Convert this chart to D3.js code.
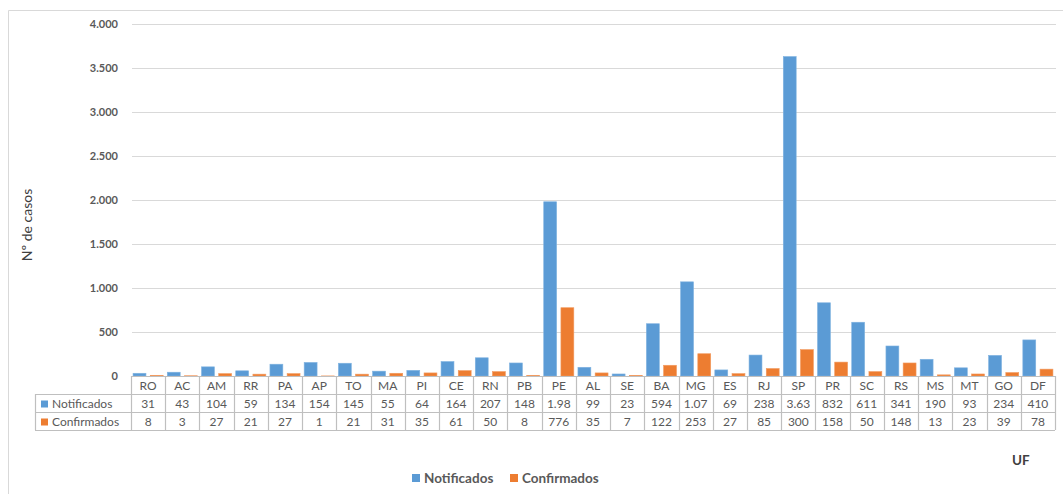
<!DOCTYPE html>
<html><head><meta charset="utf-8">
<script src="https://cdn.jsdelivr.net/npm/d3@7"></script>
<style>
html,body{margin:0;padding:0;background:#fff;}
svg{display:block;font-family:Lato,"Open Sans",sans-serif;}
</style></head>
<body>
<svg id="c" width="1063" height="494"></svg>
<script>
const categories = ["RO","AC","AM","RR","PA","AP","TO","MA","PI","CE","RN","PB","PE","AL","SE","BA","MG","ES","RJ","SP","PR","SC","RS","MS","MT","GO","DF"];
const notificados = [31,43,104,59,134,154,145,55,64,164,207,148,1980,99,23,594,1070,69,238,3630,832,611,341,190,93,234,410];
const confirmados = [8,3,27,21,27,1,21,31,35,61,50,8,776,35,7,122,253,27,85,300,158,50,148,13,23,39,78];
const notificadosLabels = ["31","43","104","59","134","154","145","55","64","164","207","148","1.98","99","23","594","1.07","69","238","3.63","832","611","341","190","93","234","410"];
const confirmadosLabels = confirmados.map(String);
const seriesNames = ["Notificados","Confirmados"];
const colors = ["#5B9BD5","#ED7D31"];
const yTicks = [0,500,1000,1500,2000,2500,3000,3500,4000];

const svg = d3.select("#c");
const L = 131, R = 1055, T = 24, B = 376;
const rowH = 18;

// frame
svg.append("path").attr("d","M8.5,494 V10.5 H1063").attr("fill","none").attr("stroke","#D9D9D9").attr("stroke-width",1);

const x0 = d3.scaleBand().domain(categories).range([L,R]).padding(0);
const x1 = d3.scaleBand().domain(seriesNames).range([0,x0.bandwidth()]).paddingInner(0.25).paddingOuter(0.12);
const y = d3.scaleLinear().domain([0,4000]).range([B,T]);

const loc = d3.formatLocale({decimal:",",thousands:".",grouping:[3],currency:["",""]});
const fmt = loc.format(",");

// gridlines
svg.append("g").selectAll("line").data(yTicks.filter(d=>d>0)).join("line")
  .attr("x1",L+1).attr("x2",R+1).attr("y1",d=>Math.round(y(d))+0.5).attr("y2",d=>Math.round(y(d))+0.5)
  .attr("stroke","#D9D9D9").attr("stroke-width",1);

// y labels
svg.append("g").selectAll("text").data(yTicks).join("text")
  .attr("x",118).attr("y",d=>y(d)).attr("dy","0.35em").attr("text-anchor","end")
  .attr("font-size",11).attr("font-weight",700).attr("fill","#595959").text(d=>fmt(d));

// y title
svg.append("text").attr("transform","translate(32,225) rotate(-90)").attr("text-anchor","middle")
  .attr("font-size",14).attr("fill","#404040").text("Nº de casos");

// bars
const data = categories.map((c,i)=>({c, vals:[notificados[i],confirmados[i]]}));
const grp = svg.append("g").selectAll("g").data(data).join("g").attr("transform",d=>`translate(${x0(d.c)},0)`);
grp.selectAll("rect").data(d=>d.vals.map((v,k)=>({k,v}))).join("rect")
  .attr("x",d=>x1(seriesNames[d.k])).attr("width",x1.bandwidth())
  .attr("y",d=>y(d.v)).attr("height",d=>B-y(d.v))
  .attr("fill",d=>colors[d.k]).attr("stroke",d=>d.k===0?"#7FB2E0":"#F29A5F").attr("stroke-width",0.6);

// table
const tbl = svg.append("g");
const tcol = "#BFBFBF";
const r0 = B, r1 = B+rowH, r2 = B+2*rowH, r3 = B+3*rowH;
const LL = 35;
tbl.append("line").attr("x1",L).attr("x2",R).attr("y1",r0+0.5).attr("y2",r0+0.5).attr("stroke",tcol);
[r1,r2,r3].forEach(yy=>tbl.append("line").attr("x1",LL).attr("x2",R).attr("y1",yy+0.5).attr("y2",yy+0.5).attr("stroke",tcol).attr("stroke-width",1.2));
const vx = categories.map(c=>x0(c)).concat([R]);
tbl.selectAll(".v").data(vx).join("line").attr("class","v")
  .attr("x1",d=>Math.round(d)+0.5).attr("x2",d=>Math.round(d)+0.5).attr("y1",r0).attr("y2",r3)
  .attr("stroke",tcol).attr("stroke-width",1.2);
tbl.append("line").attr("x1",LL+0.5).attr("x2",LL+0.5).attr("y1",r1).attr("y2",r3).attr("stroke",tcol).attr("stroke-width",1.2);

tbl.selectAll(".h").data(categories).join("text").attr("class","h")
  .attr("x",c=>x0(c)+x0.bandwidth()/2).attr("y",(r0+r1)/2+1).attr("dy","0.35em").attr("text-anchor","middle")
  .attr("font-size",12).attr("fill","#595959").text(c=>c);
[notificadosLabels, confirmadosLabels].forEach((labs,k)=>{
  const yy = B + rowH*(k+1) + rowH/2 + 1;
  tbl.append("g").selectAll("text").data(labs).join("text")
    .attr("x",(d,i)=>x0(categories[i])+x0.bandwidth()/2).attr("y",yy).attr("dy","0.35em").attr("text-anchor","middle")
    .attr("font-size",12).attr("fill","#595959").text(d=>d);
  tbl.append("rect").attr("x",41).attr("y",yy-3.5).attr("width",7).attr("height",7).attr("fill",colors[k]);
  tbl.append("text").attr("x",52).attr("y",yy).attr("dy","0.35em")
    .attr("font-size",12).attr("fill","#595959").text(seriesNames[k]);
});

svg.append("text").attr("x",1012).attr("y",460).attr("dy","0.35em").attr("font-size",13.5).attr("font-weight",700).attr("fill","#404040").text("UF");

const lg = svg.append("g");
const lx = [412, 510];
seriesNames.forEach((s,k)=>{
  lg.append("rect").attr("x",lx[k]).attr("y",474).attr("width",8).attr("height",8).attr("fill",colors[k]);
  lg.append("text").attr("x",lx[k]+12).attr("y",478).attr("dy","0.35em").attr("font-size",13.5).attr("font-weight",700).attr("fill","#595959").text(s);
});
</script>
</body></html>
